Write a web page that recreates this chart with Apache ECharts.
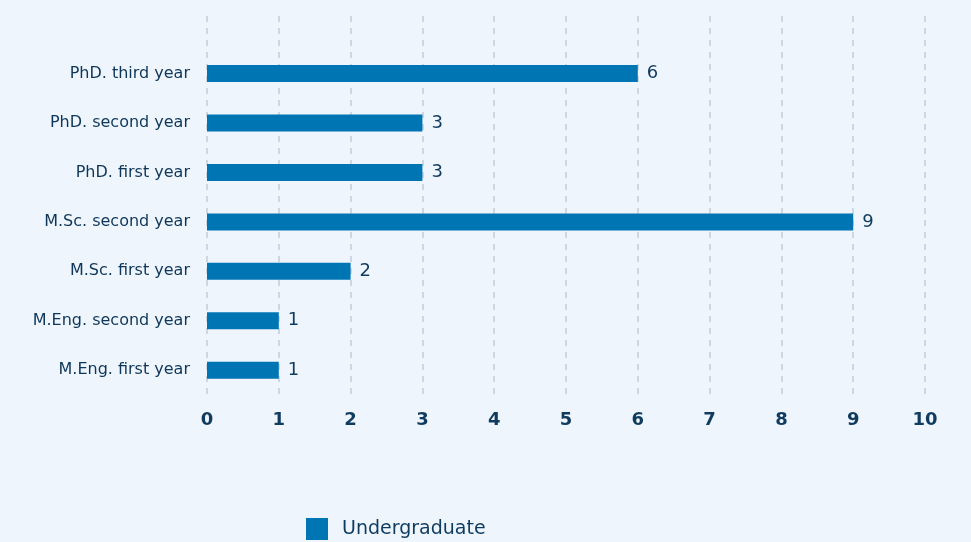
<!DOCTYPE html>
<html>
<head>
<meta charset="utf-8">
<script src="https://cdn.jsdelivr.net/npm/echarts@6/dist/echarts.min.js"></script>
<style>
  html, body { margin: 0; padding: 0; background: #eef5fd; }
  #container { width: 971px; height: 542px; }
</style>
</head>
<body>
<div id="container"></div>
<script>
// data
var categories = ['M.Eng. first year', 'M.Eng. second year', 'M.Sc. first year', 'M.Sc. second year',
    'PhD. first year', 'PhD. second year', 'PhD. third year'];
var undergraduate = [1, 1, 2, 9, 3, 3, 6];
var xTicks = [0, 10, 1]; // min, max, interval

var textColor = '#0f3b5f';
var barColor = '#0075b4';
var font = 'DejaVu Sans';

var myChart = echarts.init(document.getElementById('container'));

var option = {
    backgroundColor: '#eef5fd',
    textStyle: { fontFamily: font },
    legend: {
        data: ['Undergraduate'],
        left: 301,
        bottom: -3,
        itemWidth: 22,
        itemHeight: 22,
        itemGap: 14,
        icon: 'rect',
        textStyle: { color: textColor, fontSize: 19, fontFamily: font, padding: [0, 0, 0, 9] }
    },
    grid: [
        // main plotting grid (bars)
        { left: 207, right: 46, top: 48.75, bottom: 147, containLabel: false },
        // taller grid only for the dashed split lines
        { left: 207, right: 46, top: 16, bottom: 147, containLabel: false }
    ],
    xAxis: [
        {
            type: 'value',
            gridIndex: 0,
            min: xTicks[0], max: xTicks[1], interval: xTicks[2],
            axisLine: { show: false },
            axisTick: { show: false },
            splitLine: { show: false },
            axisLabel: {
                color: textColor, fontSize: 18, fontWeight: 'bold', margin: 16,
                fontFamily: font
            }
        },
        {
            type: 'value',
            gridIndex: 1,
            min: xTicks[0], max: xTicks[1], interval: xTicks[2],
            axisLine: { show: false },
            axisTick: { show: false },
            axisLabel: { show: false },
            splitLine: {
                show: true,
                lineStyle: { color: '#c4ccda', width: 1.5, type: [6, 6] }
            }
        }
    ],
    yAxis: [
        {
            type: 'category',
            gridIndex: 0,
            data: categories,
            axisLine: { show: false },
            axisTick: { show: false },
            axisLabel: { color: '#0d3658', fontSize: 16, margin: 17, fontFamily: font }
        },
        {
            type: 'category',
            gridIndex: 1,
            data: categories,
            show: false
        }
    ],
    series: [
        {
            name: 'Undergraduate',
            type: 'bar',
            xAxisIndex: 0,
            yAxisIndex: 0,
            data: undergraduate,
            barWidth: 17,
            itemStyle: { color: barColor },
            label: {
                show: true,
                position: 'right',
                distance: 9,
                color: textColor,
                fontSize: 18,
                fontFamily: font
            }
        }
    ]
};
myChart.setOption(option);
</script>
</body>
</html>
